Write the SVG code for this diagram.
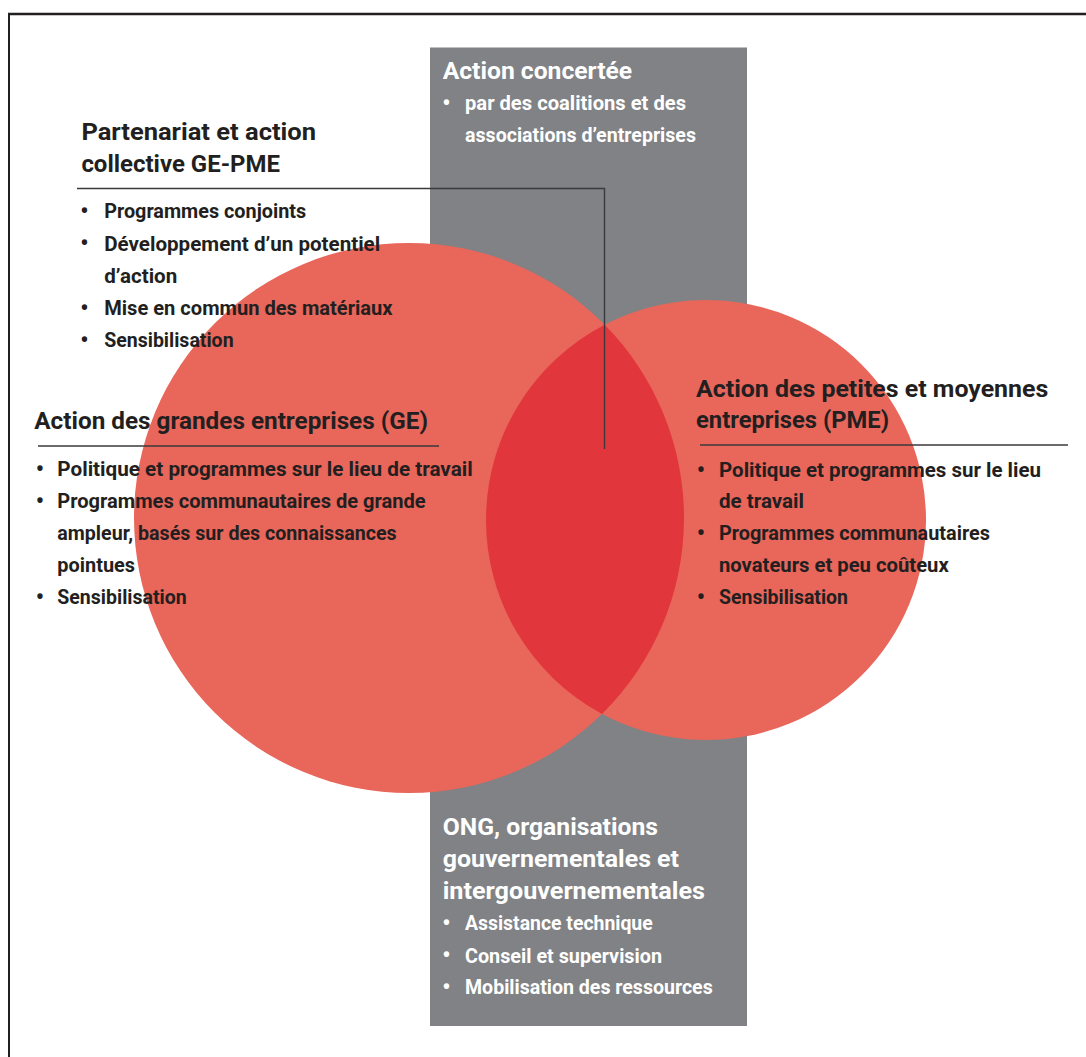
<svg xmlns="http://www.w3.org/2000/svg" width="1086" height="1057" viewBox="0 0 1086 1057">
<style>
  text { font-family: Roboto, "Liberation Sans", Arial, sans-serif; font-weight: 700; }
  .h { font-size: 24px; fill: #231F20; }
  .t { font-size: 20.5px; fill: #231F20; }
  .hw { font-size: 24px; fill: #FFFFFF; }
  .tw { font-size: 20.5px; fill: #FFFFFF; }
  .b { text-anchor: middle; font-size: 23px; }
  .rule { stroke: #3A3A3C; stroke-width: 1.4; fill: none; }
  .circle { fill: #E8665A; }
  .lens { fill: #E2363D; }
  .band { fill: #818285; }
  .frame { stroke: #231F20; fill: none; }
</style>

<g id="frame">
  <line class="frame" x1="8" y1="14" x2="1086" y2="14" stroke-width="2.5"/>
  <line class="frame" x1="9" y1="13" x2="9" y2="1057" stroke-width="2"/>
</g>

<g id="band">
  <rect class="band" x="430" y="47.5" width="317" height="978.5"/>
</g>

<g id="circles">
  <circle id="circle-ge" class="circle" cx="409" cy="518" r="275"/>
  <circle id="circle-pme" class="circle" cx="706" cy="520" r="220"/>
  <path id="lens" class="lens" d="M604.64 324.74 A275 275 0 0 1 602.02 713.88 A220 220 0 0 1 604.64 324.74 Z"/>
</g>

<g id="connectors">
  <polyline class="rule" points="77,188.5 604.5,188.5 604.5,449"/>
</g>

<g id="node-concertee">
  <text class="hw" x="442.7" y="79.3" textLength="189.5" lengthAdjust="spacingAndGlyphs">Action concertée</text>
  <text class="tw b" x="446.5" y="110.5">•</text>
  <text class="tw" x="465" y="110" textLength="221" lengthAdjust="spacingAndGlyphs">par des coalitions et des</text>
  <text class="tw" x="465" y="141.7" textLength="231" lengthAdjust="spacingAndGlyphs">associations d’entreprises</text>
</g>

<g id="node-partenariat">
  <text class="h" x="81.4" y="140" textLength="234.6" lengthAdjust="spacingAndGlyphs">Partenariat et action</text>
  <text class="h" x="81.4" y="172" textLength="198.6" lengthAdjust="spacingAndGlyphs">collective GE-PME</text>
  <text class="t b" x="84.5" y="218.8">•</text>
  <text class="t" x="104.2" y="218.3" textLength="202" lengthAdjust="spacingAndGlyphs">Programmes conjoints</text>
  <text class="t b" x="84.5" y="251.2">•</text>
  <text class="t" x="104.2" y="250.7" textLength="276" lengthAdjust="spacingAndGlyphs">Développement d’un potentiel</text>
  <text class="t" x="104.2" y="283" textLength="73" lengthAdjust="spacingAndGlyphs">d’action</text>
  <text class="t b" x="84.5" y="315.5">•</text>
  <text class="t" x="104.2" y="315" textLength="288.4" lengthAdjust="spacingAndGlyphs">Mise en commun des matériaux</text>
  <text class="t b" x="84.5" y="347.5">•</text>
  <text class="t" x="104.2" y="347" textLength="129.4" lengthAdjust="spacingAndGlyphs">Sensibilisation</text>
</g>

<g id="node-ge">
  <text class="h" x="34.3" y="429" textLength="393.7" lengthAdjust="spacingAndGlyphs">Action des grandes entreprises (GE)</text>
  <line class="rule" x1="38" y1="446" x2="439" y2="446"/>
  <text class="t b" x="39.8" y="476.5">•</text>
  <text class="t" x="57.3" y="476" textLength="415.4" lengthAdjust="spacingAndGlyphs">Politique et programmes sur le lieu de travail</text>
  <text class="t b" x="39.8" y="508.5">•</text>
  <text class="t" x="57.3" y="508" textLength="368.4" lengthAdjust="spacingAndGlyphs">Programmes communautaires de grande</text>
  <text class="t" x="57.3" y="540" textLength="339.4" lengthAdjust="spacingAndGlyphs">ampleur, basés sur des connaissances</text>
  <text class="t" x="57.3" y="572" textLength="77.7" lengthAdjust="spacingAndGlyphs">pointues</text>
  <text class="t b" x="39.8" y="604.5">•</text>
  <text class="t" x="57.3" y="604" textLength="129.4" lengthAdjust="spacingAndGlyphs">Sensibilisation</text>
</g>

<g id="node-pme">
  <text class="h" x="696" y="397" textLength="352.3" lengthAdjust="spacingAndGlyphs">Action des petites et moyennes</text>
  <text class="h" x="696" y="428" textLength="193" lengthAdjust="spacingAndGlyphs">entreprises (PME)</text>
  <line class="rule" x1="700" y1="445" x2="1068" y2="445"/>
  <text class="t b" x="701" y="477.5">•</text>
  <text class="t" x="719" y="477" textLength="322" lengthAdjust="spacingAndGlyphs">Politique et programmes sur le lieu</text>
  <text class="t" x="719" y="508" textLength="85" lengthAdjust="spacingAndGlyphs">de travail</text>
  <text class="t b" x="701" y="540.5">•</text>
  <text class="t" x="719" y="540" textLength="271" lengthAdjust="spacingAndGlyphs">Programmes communautaires</text>
  <text class="t" x="719" y="572" textLength="229.7" lengthAdjust="spacingAndGlyphs">novateurs et peu coûteux</text>
  <text class="t b" x="701" y="604.5">•</text>
  <text class="t" x="719" y="604" textLength="129" lengthAdjust="spacingAndGlyphs">Sensibilisation</text>
</g>

<g id="node-ong">
  <text class="hw" x="442.7" y="835" textLength="215.3" lengthAdjust="spacingAndGlyphs">ONG, organisations</text>
  <text class="hw" x="442.7" y="867" textLength="236.3" lengthAdjust="spacingAndGlyphs">gouvernementales et</text>
  <text class="hw" x="442.7" y="899" textLength="262.3" lengthAdjust="spacingAndGlyphs">intergouvernementales</text>
  <text class="tw b" x="446.5" y="930.5">•</text>
  <text class="tw" x="465" y="930" textLength="187.7" lengthAdjust="spacingAndGlyphs">Assistance technique</text>
  <text class="tw b" x="446.5" y="963">•</text>
  <text class="tw" x="465" y="962.5" textLength="197" lengthAdjust="spacingAndGlyphs">Conseil et supervision</text>
  <text class="tw b" x="446.5" y="994.5">•</text>
  <text class="tw" x="465" y="994" textLength="247.7" lengthAdjust="spacingAndGlyphs">Mobilisation des ressources</text>
</g>
</svg>
